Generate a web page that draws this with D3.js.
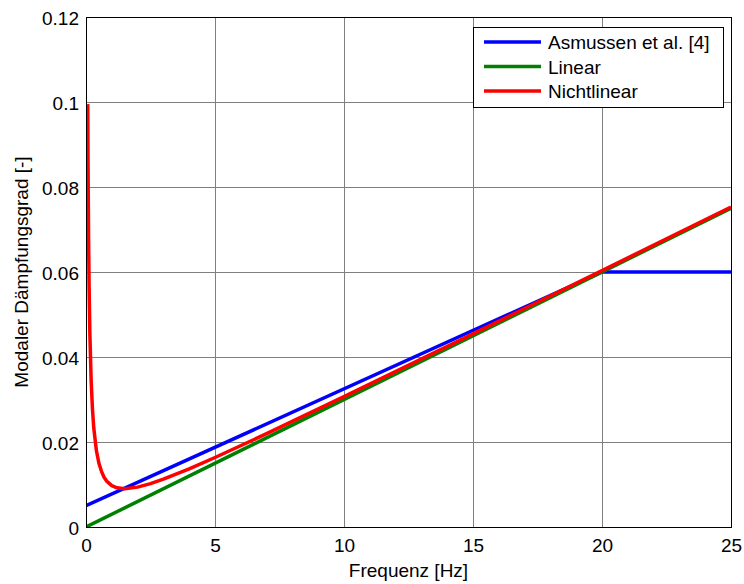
<html>

<head>
	<meta charset="utf-8">
	<script src="https://d3js.org/d3.v7.min.js"></script>
	<style>
		body { margin: 0; background: #fff; }
		text { font-family: Arial, "Liberation Sans", sans-serif; }
	</style>
</head>

<body>
	<svg width="744" height="584"></svg>
	<script>
		// values
		var xTicks = [0, 5, 10, 15, 20, 25];
		var yTicks = [0, 0.02, 0.04, 0.06, 0.08, 0.1, 0.12];
		var yTickLabels = ["0", "0.02", "0.04", "0.06", "0.08", "0.1", "0.12"];

		var asmussenF = [0, 20, 25];
		var asmussenZ = [0.005, 0.06, 0.06];

		var linearF = [0, 25];
		var linearZ = [0, 0.075];

		var nichtF = [0.068, 0.08, 0.1, 0.12, 0.15, 0.2, 0.25, 0.3, 0.4, 0.5, 0.6, 0.7, 0.8, 1.0, 1.2, 1.5, 2, 2.5, 3, 4, 5, 7, 10, 15, 20, 25];
		var nichtZ = [0.0995, 0.0846, 0.0678, 0.0566, 0.0455, 0.0344, 0.0278, 0.0234, 0.0181, 0.0150, 0.0131, 0.0117, 0.0108, 0.00975, 0.00923, 0.0090, 0.00938, 0.0102, 0.01125, 0.0137, 0.01635, 0.02196, 0.03068, 0.04545, 0.06034, 0.07527];

		var legendNames = ["Asmussen et al. [4]", "Linear", "Nichtlinear"];
		var colors = ["#0000ff", "#008000", "#ff0000"];

		var svg = d3.select("svg"),
			margin = { top: 17, right: 13, bottom: 57, left: 86 },
			width = 744,
			height = 584,
			fontSize = 19;

		var x = d3.scaleLinear()
			.domain([0, 25])
			.range([margin.left, width - margin.right]);

		var y = d3.scaleLinear()
			.domain([0, 0.12])
			.range([height - margin.bottom, margin.top]);

		// grid
		svg.append("g")
			.selectAll("line")
			.data(xTicks)
			.enter().append("line")
			.attr("x1", function (d) { return x(d); })
			.attr("x2", function (d) { return x(d); })
			.attr("y1", y(0))
			.attr("y2", y(0.12))
			.attr("stroke", "#7f7f7f")
			.attr("stroke-width", 1)
			.attr("shape-rendering", "crispEdges");

		svg.append("g")
			.selectAll("line")
			.data(yTicks)
			.enter().append("line")
			.attr("x1", x(0))
			.attr("x2", x(25))
			.attr("y1", function (d) { return y(d); })
			.attr("y2", function (d) { return y(d); })
			.attr("stroke", "#7f7f7f")
			.attr("stroke-width", 1)
			.attr("shape-rendering", "crispEdges");

		// axes
		var xAxis = svg.append("g")
			.attr("transform", "translate(0," + y(0) + ")")
			.call(d3.axisBottom(x).tickValues(xTicks).tickSize(0).tickPadding(12).tickFormat(d3.format("d")));
		xAxis.select(".domain").remove();
		xAxis.selectAll("text").attr("font-size", fontSize).attr("fill", "#000")
			.attr("font-family", "Arial, 'Liberation Sans', sans-serif");

		var yAxis = svg.append("g")
			.attr("transform", "translate(" + x(0) + ",0)")
			.call(d3.axisLeft(y).tickValues(yTicks).tickSize(0).tickPadding(7)
				.tickFormat(function (d, i) { return yTickLabels[i]; }));
		yAxis.select(".domain").remove();
		yAxis.selectAll("text").attr("font-size", fontSize).attr("fill", "#000").attr("dy", "0.42em")
			.attr("font-family", "Arial, 'Liberation Sans', sans-serif");

		// lines
		var line = d3.line()
			.x(function (d) { return x(d[0]); })
			.y(function (d) { return y(d[1]); });

		var seriesData = [
			d3.zip(asmussenF, asmussenZ),
			d3.zip(linearF, linearZ),
			d3.zip(nichtF, nichtZ)
		];

		svg.append("clipPath").attr("id", "clip")
			.append("rect")
			.attr("x", x(0)).attr("y", y(0.12))
			.attr("width", x(25) - x(0)).attr("height", y(0) - y(0.12));

		svg.append("g")
			.attr("clip-path", "url(#clip)")
			.selectAll("path")
			.data(seriesData)
			.enter().append("path")
			.attr("d", line)
			.attr("fill", "none")
			.attr("stroke", function (d, i) { return colors[i]; })
			.attr("stroke-width", 3.5)
			.attr("stroke-linejoin", "round");

		// frame
		svg.append("rect")
			.attr("x", x(0))
			.attr("y", y(0.12))
			.attr("width", x(25) - x(0))
			.attr("height", y(0) - y(0.12))
			.attr("fill", "none")
			.attr("stroke", "#000")
			.attr("stroke-width", 1)
			.attr("shape-rendering", "crispEdges");

		// axis labels
		svg.append("text")
			.attr("x", (x(0) + x(25)) / 2)
			.attr("y", 577)
			.attr("text-anchor", "middle")
			.attr("font-size", fontSize)
			.text("Frequenz [Hz]");

		svg.append("text")
			.attr("transform", "translate(28," + ((y(0) + y(0.12)) / 2) + ") rotate(-90)")
			.attr("text-anchor", "middle")
			.attr("font-size", fontSize)
			.text("Modaler Dämpfungsgrad [-]");

		// legend
		var legend = svg.append("g");
		legend.append("rect")
			.attr("x", 473)
			.attr("y", 27)
			.attr("width", 250)
			.attr("height", 80)
			.attr("fill", "#fff")
			.attr("stroke", "#000")
			.attr("stroke-width", 1)
			.attr("shape-rendering", "crispEdges");

		legend.selectAll("line")
			.data(legendNames)
			.enter().append("line")
			.attr("x1", 484)
			.attr("x2", 541)
			.attr("y1", function (d, i) { return 42 + i * 24.5; })
			.attr("y2", function (d, i) { return 42 + i * 24.5; })
			.attr("stroke", function (d, i) { return colors[i]; })
			.attr("stroke-width", 3.5);

		legend.selectAll("text")
			.data(legendNames)
			.enter().append("text")
			.attr("x", 548)
			.attr("y", function (d, i) { return 49 + i * 24.5; })
			.attr("font-size", fontSize)
			.text(function (d) { return d; });
	</script>

</body>

</html>
